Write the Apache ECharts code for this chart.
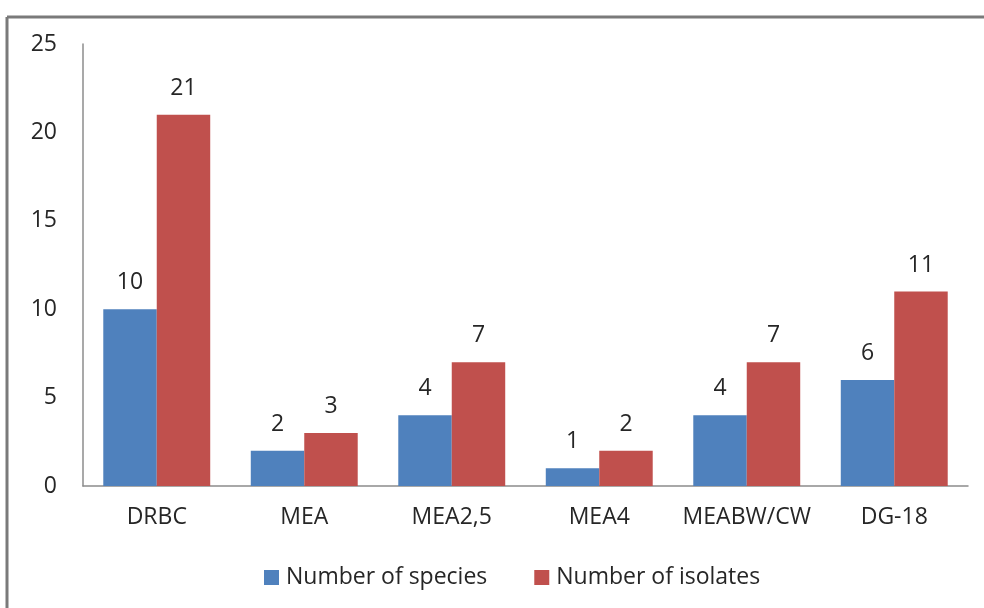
<!DOCTYPE html>
<html>
<head>
<meta charset="utf-8">
<script src="https://cdn.jsdelivr.net/npm/echarts@6/dist/echarts.min.js"></script>
<style>
  html, body { margin: 0; padding: 0; background: #fff; }
  #chart { width: 984px; height: 608px; }
</style>
</head>
<body>
<div id="chart"></div>
<script>
// Culture media on the x axis
const categories = ['DRBC', 'MEA', 'MEA2,5', 'MEA4', 'MEABW/CW', 'DG-18'];
// Counts per medium
const speciesCounts = [10, 2, 4, 1, 4, 6];
const isolateCounts = [21, 3, 7, 2, 7, 11];
const yTicks = [0, 5, 10, 15, 20, 25];

const FONT = 'Open Sans';
const TEXT = '#262626';
const FS = 23;

const chart = echarts.init(document.getElementById('chart'), null, { renderer: 'canvas' });

const labelStyle = {
  show: true,
  position: 'top',
  distance: 15,
  fontFamily: FONT,
  fontSize: FS,
  color: TEXT
};

chart.setOption({
  animation: false,
  backgroundColor: '#fff',
  graphic: [
    // outer frame (top and left edges)
    { type: 'line', shape: { x1: 7, y1: 17, x2: 984, y2: 17 }, style: { stroke: '#7a7a7a', lineWidth: 3 } },
    { type: 'line', shape: { x1: 7, y1: 17, x2: 7, y2: 608 }, style: { stroke: '#7a7a7a', lineWidth: 3 } }
  ],
  grid: { left: 83, right: 16, top: 44, bottom: 122, containLabel: false },
  legend: {
    bottom: 14,
    left: 259,
    itemWidth: 15,
    itemHeight: 15,
    itemGap: 47,
    icon: 'rect',
    textStyle: { fontFamily: FONT, fontSize: FS, color: TEXT, padding: [0, 0, 0, 2] },
    data: ['Number of species', 'Number of isolates']
  },
  xAxis: {
    type: 'category',
    data: categories,
    axisLine: { lineStyle: { color: '#8c8c8c', width: 1.5 } },
    axisTick: { show: false },
    axisLabel: { interval: 0, hideOverlap: false, fontFamily: FONT, fontSize: FS, color: TEXT, margin: 20 }
  },
  yAxis: {
    type: 'value',
    min: yTicks[0],
    max: yTicks[yTicks.length - 1],
    interval: yTicks[1] - yTicks[0],
    axisLine: { show: true, lineStyle: { color: '#8c8c8c', width: 1.5 } },
    axisTick: { show: false },
    splitLine: { show: false },
    axisLabel: { fontFamily: FONT, fontSize: FS, color: TEXT, margin: 26 }
  },
  series: [
    {
      name: 'Number of species',
      type: 'bar',
      data: speciesCounts,
      itemStyle: { color: '#4f81bd' },
      barGap: '0%',
      barCategoryGap: '27.5%',
      label: labelStyle
    },
    {
      name: 'Number of isolates',
      type: 'bar',
      data: isolateCounts,
      itemStyle: { color: '#c0504d' },
      barGap: '0%',
      barCategoryGap: '27.5%',
      label: labelStyle
    }
  ]
});
</script>
</body>
</html>
